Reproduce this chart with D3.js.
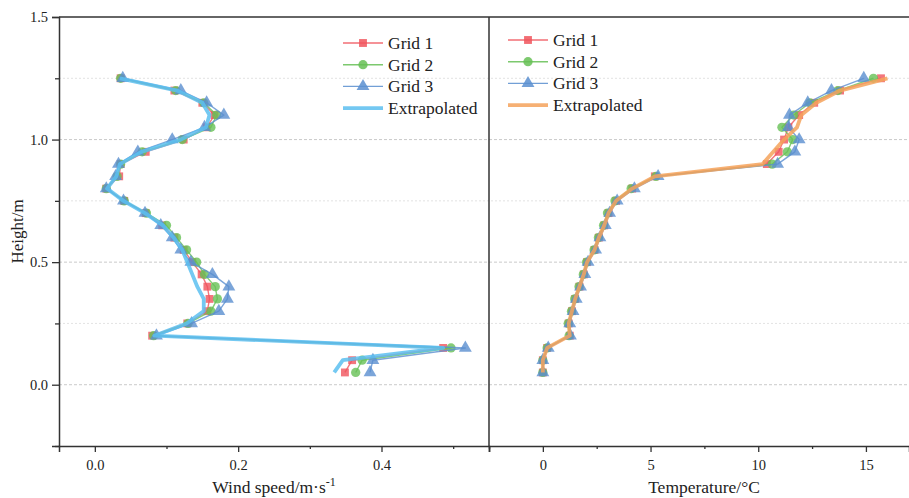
<!DOCTYPE html>
<html>
<head>
<meta charset="utf-8">
<script src="https://cdn.jsdelivr.net/npm/d3@7"></script>
<style>
  body { margin: 0; background: #fff; }
  svg text { font-family: "Liberation Serif", "Times New Roman", serif; fill: #222; }
</style>
</head>
<body>
<div id="chart"></div>
<script>
// heights of the sample points (m)
const heights = [1.25, 1.2, 1.15, 1.1, 1.05, 1.0, 0.95, 0.9, 0.85, 0.8, 0.75, 0.7, 0.65,
                 0.6, 0.55, 0.5, 0.45, 0.4, 0.35, 0.3, 0.25, 0.2, 0.15, 0.1, 0.05];

// wind speed (m/s)
const windGrid1 = [0.036, 0.111, 0.150, 0.167, 0.156, 0.124, 0.071, 0.036, 0.034, 0.016, 0.041, 0.071, 0.094,
                   0.111, 0.124, 0.136, 0.149, 0.157, 0.160, 0.157, 0.129, 0.080, 0.486, 0.359, 0.349];
const windGrid2 = [0.036, 0.113, 0.152, 0.170, 0.162, 0.122, 0.066, 0.036, 0.031, 0.016, 0.041, 0.072, 0.100,
                   0.114, 0.128, 0.142, 0.153, 0.168, 0.171, 0.162, 0.130, 0.082, 0.497, 0.373, 0.364];
const windGrid3 = [0.039, 0.120, 0.156, 0.180, 0.153, 0.108, 0.060, 0.033, 0.029, 0.016, 0.040, 0.070, 0.092,
                   0.108, 0.120, 0.134, 0.164, 0.187, 0.185, 0.173, 0.135, 0.086, 0.517, 0.388, 0.384];
const windExtrap = [0.035, 0.115, 0.150, 0.160, 0.155, 0.120, 0.065, 0.035, 0.030, 0.017, 0.040, 0.070, 0.095,
                    0.110, 0.122, 0.129, 0.136, 0.143, 0.152, 0.152, 0.128, 0.083, 0.486, 0.346, 0.334];

// temperature (°C)
const tempGrid1 = [15.7, 13.8, 12.6, 11.9, 11.4, 11.2, 10.95, 10.4, 5.2, 4.15, 3.4, 3.05, 2.85,
                   2.6, 2.4, 2.05, 1.9, 1.7, 1.5, 1.35, 1.2, 1.25, 0.2, 0.0, 0.0];
const tempGrid2 = [15.35, 13.7, 12.4, 11.65, 11.1, 11.6, 11.35, 10.65, 5.25, 4.1, 3.35, 3.0, 2.82,
                   2.58, 2.38, 2.03, 1.88, 1.68, 1.48, 1.33, 1.18, 1.22, 0.2, 0.0, 0.0];
const tempGrid3 = [14.9, 13.4, 12.3, 11.45, 11.4, 11.9, 11.7, 10.9, 5.35, 4.25, 3.45, 3.1, 2.9,
                   2.65, 2.45, 2.1, 1.95, 1.75, 1.55, 1.4, 1.25, 1.28, 0.25, 0.0, 0.0];
const tempExtrap = [16.0, 13.8, 12.7, 12.0, 11.8, 11.2, 10.7, 10.2, 5.2, 4.15, 3.4, 3.05, 2.85,
                    2.6, 2.4, 2.05, 1.9, 1.7, 1.5, 1.35, 1.2, 1.25, 0.2, 0.0, 0.0];

const seriesNames = ['Grid 1', 'Grid 2', 'Grid 3', 'Extrapolated'];
const yTicks = [0, 0.5, 1.0, 1.5];
const yMinor = [-0.25, 0.25, 0.75, 1.25];
const windTicks = [0, 0.2, 0.4];
const windMinor = [0.1, 0.3, 0.5];
const tempTicks = [0, 5, 10, 15];
const tempMinor = [-2.5, 2.5, 7.5, 12.5];

const W = 909, H = 498;
const plot = { top: 17, bottom: 446, left: 59, mid: 489, right: 909 };

const colors = {
    g1: '#f0545c',
    g2: '#66c055',
    g3: '#5a8fd0',
    extWind: '#5cbff0',
    extTemp: '#f5a35c'
};

const svg = d3.select('#chart').append('svg')
    .attr('width', W)
    .attr('height', H);

const y = d3.scaleLinear().domain([-0.25, 1.5]).range([plot.bottom, plot.top]);
const xWind = d3.scaleLinear().domain([-0.05, 0.55]).range([plot.left, plot.mid]);
const xTemp = d3.scaleLinear().domain([-2.5, 17]).range([plot.mid, plot.right]);

// grid lines
let grid = svg.append('g').attr('class', 'grid');
grid.selectAll('line.major')
    .data(yTicks.filter(d => d < 1.5))
    .join('line')
        .attr('class', 'major')
        .attr('x1', plot.left).attr('x2', plot.right)
        .attr('y1', d => y(d)).attr('y2', d => y(d))
        .attr('stroke', '#bdbdbd')
        .attr('stroke-width', 0.8)
        .attr('stroke-dasharray', '3,2');
grid.selectAll('line.minor')
    .data(yMinor.filter(d => d > 0))
    .join('line')
        .attr('class', 'minor')
        .attr('x1', plot.left).attr('x2', plot.right)
        .attr('y1', d => y(d)).attr('y2', d => y(d))
        .attr('stroke', '#dadada')
        .attr('stroke-width', 0.8)
        .attr('stroke-dasharray', '2,2');

function drawSeries(g, xScale, values, color, width, marker, opacity) {
    let pts = heights.map((h, i) => [xScale(values[i]), y(h)]);
    g.append('path')
        .attr('d', d3.line()(pts))
        .attr('fill', 'none')
        .attr('stroke', color)
        .attr('stroke-width', width)
        .attr('stroke-linejoin', 'round')
        .attr('opacity', opacity);
    if (marker) {
        g.append('g').selectAll('path')
            .data(pts)
            .join('path')
                .attr('d', d3.symbol().type(marker.type).size(marker.size))
                .attr('transform', d => `translate(${d[0]},${d[1]})`)
                .attr('fill', color)
                .attr('opacity', opacity);
    }
}

const markers = {
    g1: { type: d3.symbolSquare, size: 62 },
    g2: { type: d3.symbolCircle, size: 68 },
    g3: { type: d3.symbolTriangle, size: 72 }
};

// left panel: wind speed
let left = svg.append('g');
drawSeries(left, xWind, windGrid1, colors.g1, 1.4, markers.g1, 0.8);
drawSeries(left, xWind, windGrid2, colors.g2, 1.4, markers.g2, 0.8);
drawSeries(left, xWind, windGrid3, colors.g3, 1.4, markers.g3, 0.8);
drawSeries(left, xWind, windExtrap, colors.extWind, 3.8, null, 0.85);

// right panel: temperature
let right = svg.append('g');
drawSeries(right, xTemp, tempGrid1, colors.g1, 1.4, markers.g1, 0.8);
drawSeries(right, xTemp, tempGrid2, colors.g2, 1.4, markers.g2, 0.8);
drawSeries(right, xTemp, tempGrid3, colors.g3, 1.4, markers.g3, 0.8);
drawSeries(right, xTemp, tempExtrap, colors.extTemp, 3.8, null, 0.85);

// axes
let axes = svg.append('g');

axes.append('g')
    .attr('transform', `translate(${plot.left},0)`)
    .call(d3.axisLeft(y).tickValues(yTicks).tickFormat(d3.format('.1f')).tickSize(7).tickPadding(4));
axes.append('g')
    .attr('transform', `translate(${plot.left},0)`)
    .call(d3.axisLeft(y).tickValues(yMinor).tickFormat('').tickSize(4))
    .select('.domain').remove();

axes.append('g')
    .attr('transform', `translate(0,${plot.bottom})`)
    .call(d3.axisBottom(xWind).tickValues(windTicks).tickFormat(d3.format('.1f')).tickSize(6).tickPadding(8));
axes.append('g')
    .attr('transform', `translate(0,${plot.bottom})`)
    .call(d3.axisBottom(xWind).tickValues(windMinor).tickFormat('').tickSize(3))
    .select('.domain').remove();

axes.append('g')
    .attr('transform', `translate(0,${plot.bottom})`)
    .call(d3.axisBottom(xTemp).tickValues(tempTicks).tickFormat(d3.format('d')).tickSize(6).tickPadding(8));
axes.append('g')
    .attr('transform', `translate(0,${plot.bottom})`)
    .call(d3.axisBottom(xTemp).tickValues(tempMinor).tickFormat('').tickSize(3))
    .select('.domain').remove();

axes.selectAll('.domain').attr('stroke', '#333').attr('stroke-width', 1.5);
axes.selectAll('.tick line').attr('stroke', '#333').attr('stroke-width', 1.3);
axes.selectAll('.tick text')
    .attr('font-size', 14.5)
    .attr('font-family', '"Liberation Serif", "Times New Roman", serif')
    .attr('fill', '#222');

// frame: top line and the middle divider
axes.append('line')
    .attr('x1', plot.left).attr('x2', plot.right)
    .attr('y1', plot.top).attr('y2', plot.top)
    .attr('stroke', '#333').attr('stroke-width', 1.5);
axes.append('line')
    .attr('x1', plot.mid).attr('x2', plot.mid)
    .attr('y1', plot.top).attr('y2', plot.bottom)
    .attr('stroke', '#333').attr('stroke-width', 1.5);

// axis titles
svg.append('text')
    .attr('transform', `translate(23,${(plot.top + plot.bottom) / 2}) rotate(-90)`)
    .attr('text-anchor', 'middle')
    .attr('font-size', 17)
    .text('Height/m');

let windTitle = svg.append('text')
    .attr('x', (plot.left + plot.mid) / 2)
    .attr('y', 493)
    .attr('text-anchor', 'middle')
    .attr('font-size', 17.5);
windTitle.append('tspan').text('Wind speed/m·s');
windTitle.append('tspan').attr('dy', -7).attr('font-size', 12).text('-1');

svg.append('text')
    .attr('x', (plot.mid + plot.right) / 2 + 5)
    .attr('y', 493)
    .attr('text-anchor', 'middle')
    .attr('font-size', 17.5)
    .text('Temperature/°C');

// legends
function drawLegend(x0, y0, extColor) {
    let lg = svg.append('g').attr('transform', `translate(${x0},${y0})`);
    let items = [
        { name: seriesNames[0], color: colors.g1, marker: markers.g1, width: 1.4 },
        { name: seriesNames[1], color: colors.g2, marker: markers.g2, width: 1.4 },
        { name: seriesNames[2], color: colors.g3, marker: markers.g3, width: 1.4 },
        { name: seriesNames[3], color: extColor, marker: null, width: 3.8 }
    ];
    let row = lg.selectAll('g')
        .data(items)
        .join('g')
            .attr('transform', (d, i) => `translate(0,${i * 21.7})`);
    row.append('line')
        .attr('x1', 0).attr('x2', 40)
        .attr('stroke', d => d.color)
        .attr('stroke-width', d => d.width)
        .attr('opacity', 0.85);
    row.filter(d => d.marker)
        .append('path')
            .attr('d', d => d3.symbol().type(d.marker.type).size(d.marker.size)())
            .attr('transform', 'translate(20,0)')
            .attr('fill', d => d.color)
            .attr('opacity', 0.85);
    row.append('text')
        .attr('x', 45)
        .attr('y', 6)
        .attr('font-size', 17.5)
        .text(d => d.name);
}

drawLegend(343, 43, colors.extWind);
drawLegend(508, 40, colors.extTemp);
</script>
</body>
</html>
